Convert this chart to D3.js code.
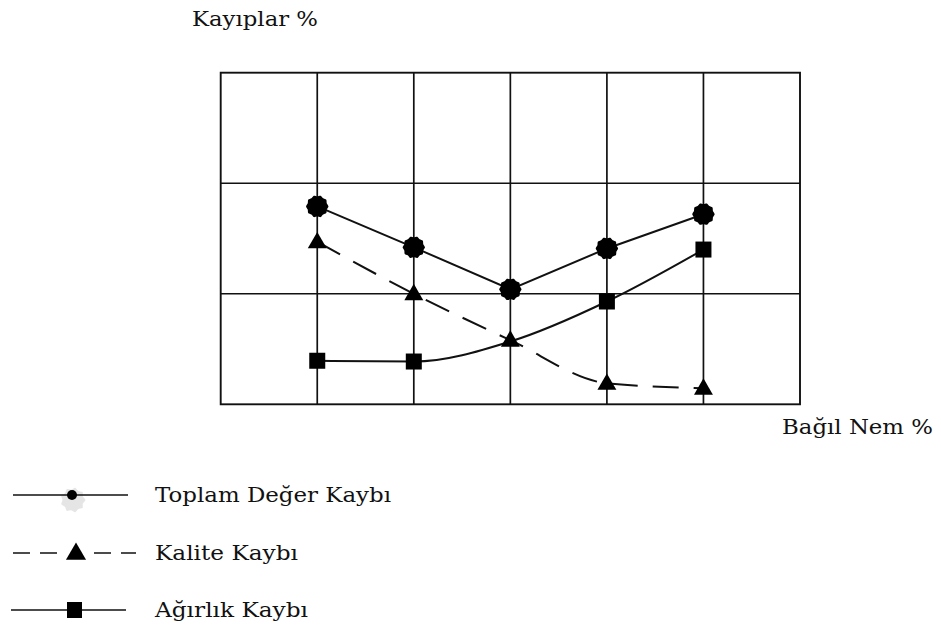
<!DOCTYPE html>
<html>
<head>
<meta charset="utf-8">
<script src="https://cdn.jsdelivr.net/npm/d3@7"></script>
<style>
  html, body { margin: 0; padding: 0; background: #fff; }
  svg text { font-family: "DejaVu Serif", serif; fill: #111; }
</style>
</head>
<body>
<svg id="chart" width="941" height="630"></svg>
<script>
// Relative humidity positions (grid columns) at which losses were measured
const humiditySteps = [1, 2, 3, 4, 5];
// Loss levels in grid units (no numeric scale is printed on the axes)
const totalValueLoss = [1.79, 1.42, 1.04, 1.41, 1.72];   // Toplam Değer Kaybı
const qualityLoss    = [1.47, 1.00, 0.58, 0.19, 0.145];  // Kalite Kaybı
const weightLoss     = [0.394, 0.387, 0.568, 0.93, 1.40]; // Ağırlık Kaybı
const weightMarked   = [true, true, false, true, true];   // square drawn at these steps

const gridColumns = [1, 2, 3, 4, 5];
const gridRows = [1, 2];

const yAxisTitle = "Kayıplar %";
const xAxisTitle = "Bağıl Nem %";
const legendLabels = ["Toplam Değer Kaybı", "Kalite Kaybı", "Ağırlık Kaybı"];

const svg = d3.select("#chart");

const x = d3.scaleLinear().domain([0, 6]).range([220.7, 800]);
const y = d3.scaleLinear().domain([0, 3]).range([404.3, 72.7]);

const ink = "#111";

// Grid and frame
const grid = svg.append("g");
grid.selectAll("line.v").data(gridColumns).join("line")
  .attr("x1", d => x(d)).attr("x2", d => x(d))
  .attr("y1", y(0)).attr("y2", y(3))
  .attr("stroke", ink).attr("stroke-width", 1.7);
grid.selectAll("line.h").data(gridRows).join("line")
  .attr("x1", x(0)).attr("x2", x(6))
  .attr("y1", d => y(d)).attr("y2", d => y(d))
  .attr("stroke", ink).attr("stroke-width", 1.7);
grid.append("rect")
  .attr("x", x(0)).attr("y", y(3))
  .attr("width", x(6) - x(0)).attr("height", y(0) - y(3))
  .attr("fill", "none").attr("stroke", ink).attr("stroke-width", 1.9);

// Marker shapes
function gearPath(r1, r2, teeth) {
  const pts = [];
  for (let i = 0; i < teeth * 2; i++) {
    const a = (Math.PI * i) / teeth;
    const r = i % 2 === 0 ? r1 : r2;
    pts.push([r * Math.cos(a), r * Math.sin(a)]);
  }
  return d3.line().curve(d3.curveCardinalClosed.tension(0.3))(pts);
}
const triangle = d3.symbol().type(d3.symbolTriangle).size(155);

const series = [
  { values: totalValueLoss, curve: d3.curveLinear, dash: null },
  { values: qualityLoss, curve: d3.curveMonotoneX, dash: "26,15" },
  { values: weightLoss, curve: d3.curveMonotoneX, dash: null }
];

const lineGen = c => d3.line()
  .x((d, i) => x(humiditySteps[i]))
  .y(d => y(d))
  .curve(c);

const lines = svg.append("g");
series.forEach(s => {
  lines.append("path")
    .datum(s.values)
    .attr("d", lineGen(s.curve))
    .attr("fill", "none")
    .attr("stroke", ink)
    .attr("stroke-width", 2)
    .attr("stroke-dasharray", s.dash);
});

const marks = svg.append("g");
// Squares: weight loss
marks.selectAll("rect.w")
  .data(weightLoss.map((v, i) => ({ v, i })).filter(d => weightMarked[d.i]))
  .join("rect")
  .attr("x", d => x(humiditySteps[d.i]) - 8)
  .attr("y", d => y(d.v) - 8)
  .attr("width", 16).attr("height", 16)
  .attr("fill", "#000");
// Triangles: quality loss
marks.selectAll("path.q").data(qualityLoss).join("path")
  .attr("d", triangle)
  .attr("transform", (d, i) => `translate(${x(humiditySteps[i])},${y(d) + 1})`)
  .attr("fill", "#000");
// Gear-edged discs: total value loss
marks.selectAll("path.t").data(totalValueLoss).join("path")
  .attr("d", gearPath(11.2, 10, 10))
  .attr("transform", (d, i) => `translate(${x(humiditySteps[i])},${y(d)})`)
  .attr("fill", "#000");

// Axis titles
svg.append("text").attr("x", 192).attr("y", 26)
  .attr("font-size", 20).attr("textLength", 126).attr("lengthAdjust", "spacingAndGlyphs")
  .text(yAxisTitle);
svg.append("text").attr("x", 782).attr("y", 434)
  .attr("font-size", 20).attr("textLength", 151).attr("lengthAdjust", "spacingAndGlyphs")
  .text(xAxisTitle);

// Legend
const legend = svg.append("g");
const rowY = [495, 553, 610];
const labelWidths = [236, 143, 153];

// Row 1: solid line with a pale gear and a small black dot
legend.append("path").attr("d", gearPath(12.5, 10.5, 9))
  .attr("transform", `translate(73,${rowY[0] + 5})`)
  .attr("fill", "#e2e2e2").attr("opacity", 0.9);
legend.append("line").attr("x1", 13).attr("x2", 128).attr("y1", rowY[0]).attr("y2", rowY[0])
  .attr("stroke", ink).attr("stroke-width", 1.7);
legend.append("circle").attr("cx", 72).attr("cy", rowY[0]).attr("r", 5).attr("fill", "#000");

// Row 2: dashed line with triangle
legend.append("line").attr("x1", 13).attr("x2", 136).attr("y1", rowY[1]).attr("y2", rowY[1])
  .attr("stroke", ink).attr("stroke-width", 1.7).attr("stroke-dasharray", "17,10");
legend.append("rect").attr("x", 65).attr("y", rowY[1] - 12).attr("width", 22).attr("height", 24).attr("fill", "#fff");
legend.append("path").attr("d", d3.symbol().type(d3.symbolTriangle).size(175))
  .attr("transform", `translate(76,${rowY[1] + 1})`).attr("fill", "#000");

// Row 3: solid line with square
legend.append("line").attr("x1", 11).attr("x2", 126).attr("y1", rowY[2]).attr("y2", rowY[2])
  .attr("stroke", ink).attr("stroke-width", 1.7);
legend.append("rect").attr("x", 67).attr("y", rowY[2] - 8).attr("width", 15).attr("height", 16).attr("fill", "#000");

legend.selectAll("text").data(legendLabels).join("text")
  .attr("x", 155)
  .attr("y", (d, i) => rowY[i] + 7)
  .attr("font-size", 20)
  .attr("textLength", (d, i) => labelWidths[i])
  .attr("lengthAdjust", "spacingAndGlyphs")
  .text(d => d);
</script>
</body>
</html>
